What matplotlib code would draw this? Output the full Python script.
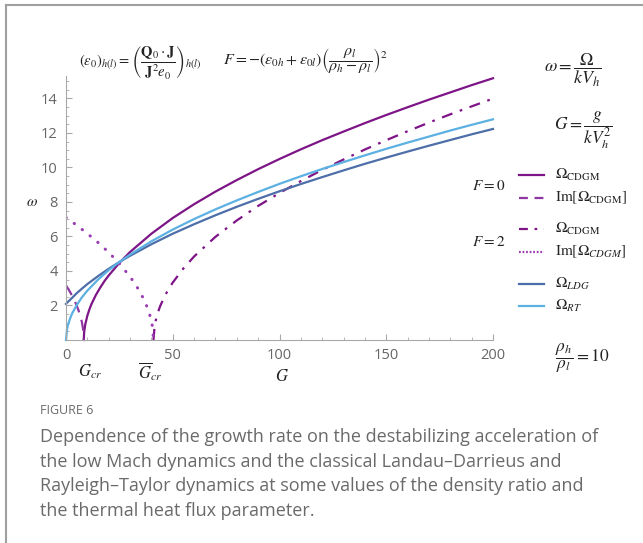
import matplotlib
matplotlib.use("Agg")
import matplotlib.pyplot as plt
from matplotlib.lines import Line2D
from matplotlib.ticker import MultipleLocator

plt.rcParams["mathtext.fontset"] = "stix"

# F = 0, growth rate (real part) and imaginary part
g_cdgm0 = [8.33, 8.5, 9, 10, 11, 12, 14, 16, 18, 20, 25, 30, 40, 50, 60, 70, 80, 90,
           100, 110, 120, 130, 140, 150, 160, 170, 180, 190, 200]
w_cdgm0 = [0.0, 0.45, 0.89, 1.41, 1.79, 2.10, 2.61, 3.03, 3.41, 3.74, 4.47, 5.10, 6.16,
           7.07, 7.87, 8.60, 9.27, 9.90, 10.49, 11.05, 11.58, 12.08, 12.57, 13.04, 13.49,
           13.93, 14.35, 14.77, 15.17]
g_im0 = [0, 1, 2, 3, 4, 5, 6, 7, 7.5, 8, 8.2, 8.33]
w_im0 = [3.16, 2.97, 2.76, 2.53, 2.28, 2.00, 1.67, 1.27, 1.00, 0.63, 0.40, 0.0]

# F = 2
g_cdgm2 = [40.98, 41.5, 42, 43, 44, 46, 48, 50, 55, 60, 70, 80, 90, 100, 110, 120, 130,
           140, 150, 160, 170, 180, 190, 200]
w_cdgm2 = [0.0, 0.80, 1.12, 1.58, 1.93, 2.49, 2.94, 3.33, 4.15, 4.84, 5.98, 6.93, 7.77,
           8.52, 9.21, 9.86, 10.46, 11.04, 11.58, 12.10, 12.60, 13.08, 13.54, 13.99]
g_im2 = [0, 5, 10, 15, 20, 25, 30, 33, 36, 38, 39, 40, 40.5, 40.98]
w_im2 = [7.10, 6.65, 6.17, 5.65, 5.08, 4.43, 3.67, 3.13, 2.47, 1.91, 1.56, 1.10, 0.77, 0.0]

# classical Landau-Darrieus (with gravity) and Rayleigh-Taylor
g_cls = [0, 0.5, 1, 2, 3, 5, 7.5, 10, 15, 20, 25, 30, 40, 50, 60, 70, 80, 90, 100, 110,
         120, 130, 140, 150, 160, 170, 180, 190, 200]
w_ldg = [2.09, 2.16, 2.22, 2.34, 2.46, 2.71, 2.98, 3.24, 3.70, 4.13, 4.52, 4.88, 5.55,
         6.16, 6.71, 7.23, 7.72, 8.18, 8.62, 9.04, 9.44, 9.83, 10.21, 10.57, 10.92,
         11.26, 11.59, 11.92, 12.23]
w_rt = [0.0, 0.64, 0.90, 1.28, 1.57, 2.02, 2.48, 2.86, 3.50, 4.05, 4.52, 4.95, 5.72,
        6.40, 7.01, 7.57, 8.09, 8.58, 9.05, 9.49, 9.91, 10.31, 10.70, 11.08, 11.44,
        11.79, 12.14, 12.47, 12.79]

x_ticks = [0, 50, 100, 150, 200]
y_ticks = [2, 4, 6, 8, 10, 12, 14]

c_solid = "#7d1587"
c_dash = "#8e36a3"
c_dashdot = "#7f1488"
c_dot = "#9a3cb2"
c_ldg = "#4d6ea8"
c_rt = "#5cb0e2"

W, H = 643, 543
fig = plt.figure(figsize=(W / 100, H / 100), dpi=100)


def fx(px):
    return px / W


def fy(py):
    return 1 - py / H


# page frame (left and top edges)
fig.add_artist(Line2D([fx(6), fx(6)], [fy(5), 0], color="#a0a0a0", lw=1.5))
fig.add_artist(Line2D([fx(6), 1], [fy(5), fy(5)], color="#a0a0a0", lw=1.5))

ax = fig.add_axes([fx(66), fy(340), fx(493) - fx(66), (340 - 76) / H])
ax.set_xlim(0, 200)
ax.set_ylim(0, 15.3)

lw = 1.6
ax.plot(g_cdgm0, w_cdgm0, color=c_solid, lw=lw, clip_on=False)
ax.plot(g_im0, w_im0, color=c_dash, lw=lw, dashes=(5, 3.5))
ax.plot(g_cdgm2, w_cdgm2, color=c_dashdot, lw=lw, dashes=(5, 3.5, 1.2, 3.5))
ax.plot(g_im2, w_im2, color=c_dot, lw=2.2, dashes=(0.1, 3.2), dash_capstyle="round")
ax.plot(g_cls, w_ldg, color=c_ldg, lw=lw, clip_on=False)
ax.plot(g_cls, w_rt, color=c_rt, lw=lw, clip_on=False)

for s in ["top", "right"]:
    ax.spines[s].set_visible(False)
for s in ["left", "bottom"]:
    ax.spines[s].set_color("#a8a8a8")
    ax.spines[s].set_linewidth(0.8)
ax.set_xticks(x_ticks)
ax.set_yticks(y_ticks)
ax.xaxis.set_minor_locator(MultipleLocator(10))
ax.yaxis.set_minor_locator(MultipleLocator(0.5))
ax.tick_params(which="both", direction="in", color="#a8a8a8", labelcolor="#666666",
               labelsize=10.5, pad=6)
ax.tick_params(which="major", length=4, width=0.8)
ax.tick_params(which="minor", length=2, width=0.6)
for lab in ax.get_xticklabels() + ax.get_yticklabels():
    lab.set_fontfamily("Open Sans")

mt = dict(color="#222222", ha="center", va="center")
fig.text(fx(140), fy(62), r"$(\varepsilon_0)_{h(l)}=\left(\dfrac{\mathbf{Q}_0\cdot\mathbf{J}}"
         r"{\mathbf{J}^2 e_0}\right)_{h(l)}$", fontsize=10.5, **mt)
fig.text(fx(305), fy(62), r"$F=-(\varepsilon_{0h}+\varepsilon_{0l})\left(\dfrac{\rho_l}"
         r"{\rho_h-\rho_l}\right)^2$", fontsize=11.5, **mt)
fig.text(fx(573), fy(70), r"$\omega=\dfrac{\Omega}{kV_h}$", fontsize=13, **mt)
fig.text(fx(583), fy(130), r"$G=\dfrac{g}{kV_h^2}$", fontsize=12.5, **mt)
fig.text(fx(489), fy(185), r"$F=0$", fontsize=11, **mt)
fig.text(fx(489), fy(242), r"$F=2$", fontsize=11, **mt)
fig.text(fx(582), fy(358), r"$\dfrac{\rho_h}{\rho_l}=10$", fontsize=12.5, **mt)
fig.text(fx(32), fy(202), r"$\omega$", fontsize=11, **mt)
fig.text(fx(282), fy(376), r"$G$", fontsize=12, **mt)
fig.text(fx(90), fy(372), r"$G_{cr}$", fontsize=12, **mt)
fig.text(fx(150), fy(372), r"$\overline{G}_{cr}$", fontsize=12, **mt)

# legend samples
legend_rows = [
    (175, dict(color=c_solid), r"$\Omega_{\mathrm{CDGM}}$"),
    (198, dict(color=c_dash, dashes=(4, 3)), r"$\mathrm{Im}\left[\Omega_{\mathrm{CDGM}}\right]$"),
    (229, dict(color=c_dashdot, dashes=(4, 3, 1.2, 3)), r"$\Omega_{\mathrm{CDGM}}$"),
    (252, dict(color=c_dot, dashes=(0.8, 0.8)), r"$\mathrm{Im}\left[\Omega_{CDGM}\right]$"),
    (284, dict(color=c_ldg), r"$\Omega_{LDG}$"),
    (306, dict(color=c_rt), r"$\Omega_{RT}$"),
]
for py, style, label in legend_rows:
    fig.add_artist(Line2D([fx(519), fx(544)], [fy(py), fy(py)], lw=1.6, **style))
    fig.text(fx(555), fy(py), label, fontsize=11, color="#222222", ha="left", va="center")

# caption
cap_color = "#6a6a6a"
fig.text(fx(40), fy(410), "FIGURE 6", fontsize=9, color=cap_color, family="Open Sans",
         ha="left", va="center")
caption = [
    "Dependence of the growth rate on the destabilizing acceleration of",
    "the low Mach dynamics and the classical Landau\u2013Darrieus and",
    "Rayleigh\u2013Taylor dynamics at some values of the density ratio and",
    "the thermal heat flux parameter.",
]
for i, line in enumerate(caption):
    fig.text(fx(40), fy(437 + 24.6 * i), line, fontsize=13, color=cap_color,
             family="Open Sans", ha="left", va="center")

fig.savefig("out.png", dpi=100)
